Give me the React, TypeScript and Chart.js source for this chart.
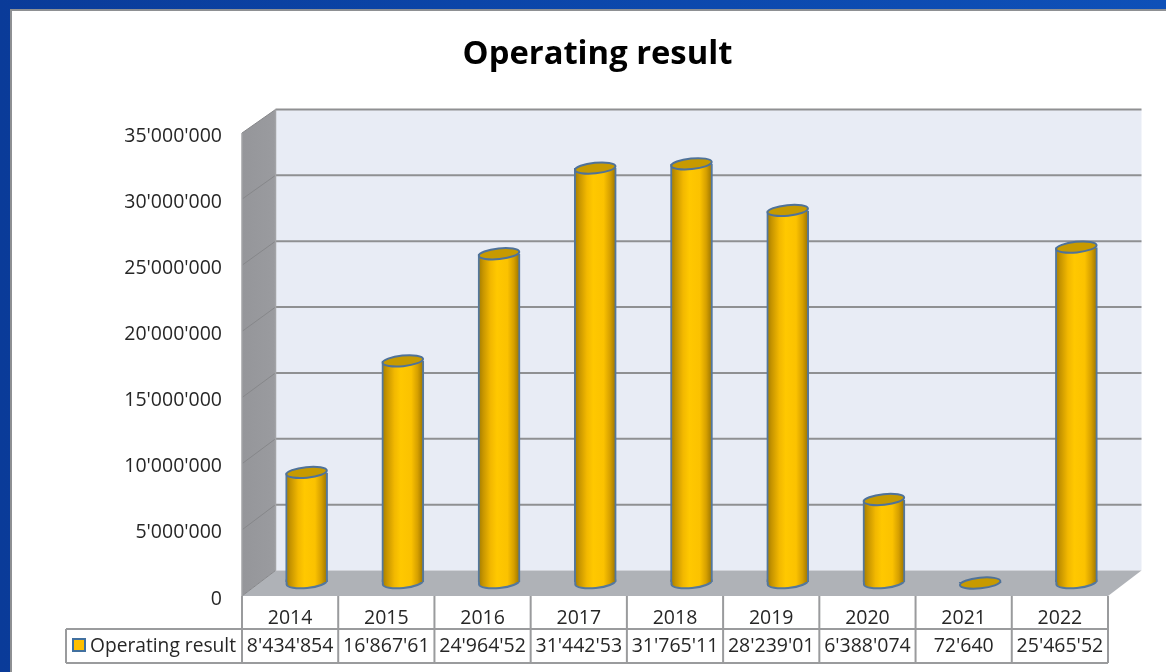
import React, { useEffect, useRef } from "react";
import { Chart, registerables } from "chart.js";

Chart.register(...registerables);

const years = ["2014", "2015", "2016", "2017", "2018", "2019", "2020", "2021", "2022"];
const operatingResult = [8434854, 16867610, 24964520, 31442530, 31765110, 28239010, 6388074, 72640, 25465520];
// The data-table cells are clipped in the reference, so they are kept as shown.
const tableCells = ["8'434'854", "16'867'61", "24'964'52", "31'442'53", "31'765'11", "28'239'01", "6'388'074", "72'640", "25'465'52"];
const seriesName = "Operating result";
const FONT = "'Open Sans', sans-serif";
const TEXT = "#262626";

const DEPTH_X = 33.5;
const BAR_DX = 16.5;
const LABEL_SHIFT = 3; // the value labels sit a little below the front plane of the box
const BAR_DY = -12 - LABEL_SHIFT;

const wallPlugin = {
  id: "walls",
  beforeDraw(chart: any) {
    const { ctx, chartArea: a, width, height } = chart;
    const y = chart.scales.y;
    const x = chart.scales.x;
    const L = a.left, R = a.right, T = a.top - LABEL_SHIFT, B = a.bottom - LABEL_SHIFT;
    const depthY = (py: number) => -25.5 + (2 * (B - py)) / (B - T);
    ctx.save();
    // window frame
    const blue = ctx.createLinearGradient(0, 0, width, 0);
    blue.addColorStop(0, "#0a3b99");
    blue.addColorStop(0.4, "#0b45a8");
    blue.addColorStop(1, "#0e50b8");
    ctx.fillStyle = blue;
    ctx.fillRect(0, 0, width, height);
    ctx.fillStyle = "#ffffff";
    ctx.fillRect(11, 10, width - 11, height - 10);
    ctx.fillStyle = "#8e9093";
    ctx.fillRect(10, 9, width - 10, 2);
    ctx.fillRect(10, 9, 2, height - 9);

    const bT = T + depthY(T), bB = B + depthY(B);
    // back wall
    ctx.fillStyle = "#e8ecf5";
    ctx.fillRect(L + DEPTH_X, bT, R - L, bB - bT);
    // side wall
    const side = ctx.createLinearGradient(L, 0, L + DEPTH_X, 0);
    side.addColorStop(0, "#95969a");
    side.addColorStop(1, "#9a9b9f");
    ctx.fillStyle = side;
    ctx.beginPath();
    ctx.moveTo(L, T); ctx.lineTo(L + DEPTH_X, bT); ctx.lineTo(L + DEPTH_X, bB); ctx.lineTo(L, B);
    ctx.closePath();
    ctx.fill();
    // floor
    ctx.fillStyle = "#afb2b7";
    ctx.beginPath();
    ctx.moveTo(L, B); ctx.lineTo(L + DEPTH_X, bB); ctx.lineTo(R + DEPTH_X, bB); ctx.lineTo(R, B);
    ctx.closePath();
    ctx.fill();
    // gridlines
    y.ticks.forEach((t: any) => {
      const py = y.getPixelForValue(t.value) - LABEL_SHIFT;
      const by = py + depthY(py);
      if (t.value !== 0) {
        ctx.strokeStyle = "#8f9092";
        ctx.lineWidth = 2;
        ctx.beginPath();
        ctx.moveTo(L + DEPTH_X, by);
        ctx.lineTo(R + DEPTH_X, by);
        ctx.stroke();
      }
      ctx.strokeStyle = "#86878a";
      ctx.lineWidth = 1;
      ctx.beginPath();
      ctx.moveTo(L, py);
      ctx.lineTo(L + DEPTH_X, by);
      ctx.stroke();
    });
    ctx.strokeStyle = "#a3a4a7";
    ctx.lineWidth = 1.5;
    ctx.beginPath();
    ctx.moveTo(L + DEPTH_X, bT); ctx.lineTo(L + DEPTH_X, bB);
    ctx.moveTo(L, T); ctx.lineTo(L, B);
    ctx.stroke();

    // data table
    const rowA = B, rowB = 629, rowC = 663, keyLeft = 66;
    const cell = (R - L) / years.length;
    ctx.strokeStyle = "#9a9b9d";
    ctx.lineWidth = 2;
    ctx.beginPath();
    for (let i = 0; i <= years.length; i++) {
      const px = x.getPixelForValue(0) - cell / 2 + i * cell;
      ctx.moveTo(px, rowA); ctx.lineTo(px, rowC);
    }
    ctx.moveTo(keyLeft, rowB); ctx.lineTo(R, rowB);
    ctx.moveTo(keyLeft, rowC); ctx.lineTo(R, rowC);
    ctx.moveTo(keyLeft, rowB); ctx.lineTo(keyLeft, rowC);
    ctx.stroke();
    // legend key + name
    ctx.fillStyle = "#ffc000";
    ctx.strokeStyle = "#41709f";
    ctx.lineWidth = 2;
    ctx.fillRect(73, 639, 12, 12);
    ctx.strokeRect(73, 639, 12, 12);
    ctx.fillStyle = TEXT;
    ctx.font = `19.2px ${FONT}`;
    ctx.textAlign = "left";
    ctx.textBaseline = "middle";
    ctx.fillText(chart.data.datasets[0].label, 90, 646.5);
    ctx.restore();
  },
  beforeDatasetDraw(chart: any, args: any) {
    const { ctx } = chart;
    const zero = chart.scales.y.getPixelForValue(0) - 1.5;
    ctx.save();
    ctx.translate(BAR_DX, BAR_DY);
    args.meta.data.forEach((el: any, i: number) => {
      if (chart.data.datasets[0].data[i] < 300000) return;
      // lower rim of the cylinder
      ctx.fillStyle = el.options.backgroundColor;
      ctx.strokeStyle = "#54779c";
      ctx.lineWidth = 2;
      ctx.beginPath();
      ctx.moveTo(el.x + 20, zero - 3);
      ctx.ellipse(el.x, zero, 20.1, 5.5, -0.1, 0, Math.PI);
      ctx.lineTo(el.x - 20, zero - 3);
      ctx.fill();
      ctx.stroke();
    });
  },
  afterDatasetDraw(chart: any, args: any) {
    const { ctx } = chart;
    args.meta.data.forEach((el: any) => {
      ctx.fillStyle = "#c79a00";
      ctx.strokeStyle = "#4f7299";
      ctx.lineWidth = 2;
      ctx.beginPath();
      ctx.ellipse(el.x, el.y, 20.3, 5.3, -0.1, 0, Math.PI * 2);
      ctx.fill();
      ctx.stroke();
    });
    ctx.restore();
  },
};

function cylinderGradient(c: any) {
  const chart = c.chart;
  const cx = c.dataIndex === undefined ? NaN : chart.scales.x.getPixelForValue(c.dataIndex);
  if (!Number.isFinite(cx)) return "#ffc000";
  const g = chart.ctx.createLinearGradient(cx - 21, 0, cx + 21, 0);
  g.addColorStop(0, "#a07a00");
  g.addColorStop(0.12, "#c79500");
  g.addColorStop(0.3, "#f2b800");
  g.addColorStop(0.45, "#ffc800");
  g.addColorStop(0.7, "#fbc200");
  g.addColorStop(0.85, "#d6a000");
  g.addColorStop(1, "#957000");
  return g;
}

export default function App() {
  const ref = useRef<HTMLCanvasElement>(null);
  useEffect(() => {
    const chart = new Chart(ref.current as HTMLCanvasElement, {
      type: "bar",
      data: {
        labels: years,
        datasets: [
          {
            label: seriesName,
            data: operatingResult,
            base: 150000,
            barThickness: 42,
            clip: false,
            backgroundColor: cylinderGradient,
            borderColor: "#54779c",
            borderWidth: { left: 2, right: 2, top: 0, bottom: 0 },
            borderSkipped: false,
          } as any,
        ],
      },
      options: {
        responsive: false,
        animation: false,
        layout: { padding: { left: 87, right: 58, top: 0, bottom: 0 } },
        plugins: {
          legend: { display: false },
          tooltip: { enabled: false },
          title: {
            display: true,
            text: seriesName,
            color: "#000000",
            font: { family: FONT, size: 32.75, weight: "bold", lineHeight: 1.2 },
            padding: { top: 35, bottom: 61.7 },
          },
        },
        scales: {
          x: {
            grid: { display: false },
            border: { display: false },
            afterFit(s: any) { s.height = 73; },
            ticks: {
              autoSkip: false,
              maxRotation: 0,
              minRotation: 0,
              padding: -3,
              color: TEXT,
              font: { family: FONT, size: 19.5, lineHeight: 28 / 19.5 },
              callback: (_v: any, i: number) => [years[i], tableCells[i]],
            },
          },
          y: {
            min: 0,
            max: 35000000,
            grid: { display: false },
            border: { display: false },
            afterFit(s: any) { s.width = 155; },
            ticks: {
              stepSize: 5000000,
              padding: 12,
              color: TEXT,
              font: { family: FONT, size: 19.5 },
              callback: (v: any) => String(v).replace(/\B(?=(\d{3})+$)/g, "'"),
            },
          },
        },
      },
      plugins: [wallPlugin],
    } as any);
    return () => chart.destroy();
  }, []);
  return (
    <div style={{ position: "fixed", left: 0, top: 0, width: 1166, height: 672, overflow: "hidden" }}>
      <canvas ref={ref} width={1166} height={672} style={{ display: "block" }} />
    </div>
  );
}
